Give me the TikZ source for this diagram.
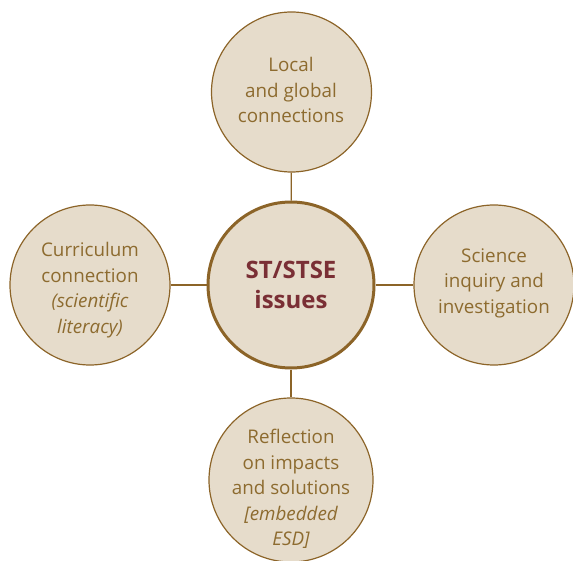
\documentclass[tikz,border=0pt]{standalone}
\usepackage{fontspec}
\setmainfont{Open Sans}
\definecolor{cfill}{HTML}{E6DCCB}
\definecolor{cborder}{HTML}{8C6428}
\definecolor{ctext}{HTML}{8D6B2F}
\definecolor{ccenter}{HTML}{7A2F35}
\begin{document}
\begin{tikzpicture}[x=1pt,y=-1pt,
  outer/.style={circle,draw=cborder,fill=cfill,line width=1.2pt,minimum size=160pt,inner sep=0pt},
  outertext/.style={align=center,text=ctext,inner sep=0pt,font=\fontsize{18.8}{25.5}\selectfont},
  hub/.style={circle,draw=cborder,fill=cfill,line width=3pt,minimum size=166pt,inner sep=0pt,
    align=center,text=ccenter,font=\bfseries\fontsize{24}{30}\selectfont},
  link/.style={draw=cborder,line width=1.4pt}]
\useasboundingbox (0,0) rectangle (573,561);
\node[hub] (c) at (291,285) {ST/STSE\\issues};
\node[outer] (t) at (291.5,92) {};
\node[outer] (l) at (90,285) {};
\node[outer] (r) at (494,285) {};
\node[outer,minimum size=164pt] (b) at (291,480) {};
\node[outertext] (tt) at (291,90) {Local\\and global\\connections};
\node[outertext] (lt) at (90,290) {Curriculum\\connection\\\itshape(scientific\\\itshape literacy)};
\node[outertext] (rt) at (494,283) {Science\\inquiry and\\investigation};
\node[outertext] (bt) at (291,489) {Reflection\\on impacts\\and solutions\\\itshape[embedded\\\itshape ESD]};
\draw[link] (c) -- (t);
\draw[link] (c) -- (l);
\draw[link] (c) -- (r);
\draw[link] (c) -- (b);
\end{tikzpicture}
\end{document}
